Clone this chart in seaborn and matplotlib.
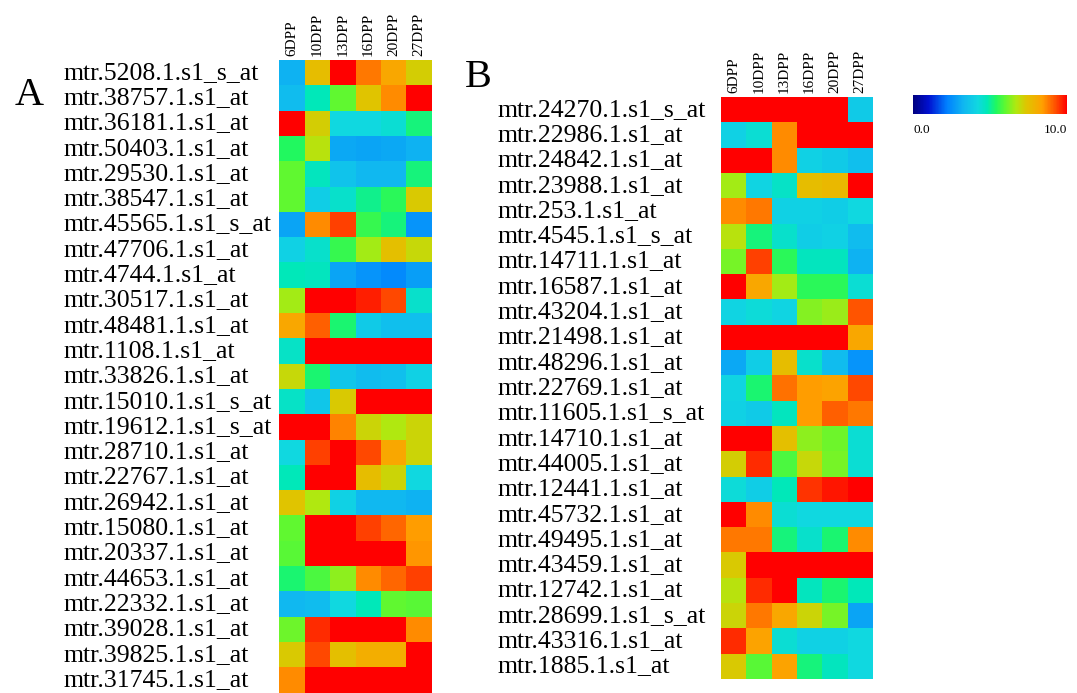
import pandas as pd
import seaborn as sns
import matplotlib.pyplot as plt
from matplotlib.colors import LinearSegmentedColormap

stages = ['6DPP', '10DPP', '13DPP', '16DPP', '20DPP', '27DPP']

genes_a = ['mtr.5208.1.s1_s_at', 'mtr.38757.1.s1_at', 'mtr.36181.1.s1_at', 'mtr.50403.1.s1_at',
           'mtr.29530.1.s1_at', 'mtr.38547.1.s1_at', 'mtr.45565.1.s1_s_at', 'mtr.47706.1.s1_at',
           'mtr.4744.1.s1_at', 'mtr.30517.1.s1_at', 'mtr.48481.1.s1_at', 'mtr.1108.1.s1_at',
           'mtr.33826.1.s1_at', 'mtr.15010.1.s1_s_at', 'mtr.19612.1.s1_s_at', 'mtr.28710.1.s1_at',
           'mtr.22767.1.s1_at', 'mtr.26942.1.s1_at', 'mtr.15080.1.s1_at', 'mtr.20337.1.s1_at',
           'mtr.44653.1.s1_at', 'mtr.22332.1.s1_at', 'mtr.39028.1.s1_at', 'mtr.39825.1.s1_at',
           'mtr.31745.1.s1_at']

values_a = [
    [3.2, 7.6, 10, 8.8, 8.2, 7.2],
    [3.4, 4.8, 6.0, 7.4, 8.6, 10],
    [10, 7.2, 4.2, 4.2, 4.4, 5.2],
    [5.4, 6.8, 3.0, 2.9, 3.0, 3.2],
    [6.0, 4.7, 3.6, 3.3, 3.3, 5.2],
    [6.0, 3.9, 4.5, 5.1, 5.5, 7.3],
    [2.9, 8.6, 9.4, 5.6, 5.2, 2.6],
    [4.0, 4.5, 5.6, 6.6, 7.5, 7.0],
    [4.8, 4.7, 2.9, 2.6, 2.4, 2.8],
    [6.6, 10, 10, 9.7, 9.3, 4.5],
    [8.2, 9.1, 5.3, 3.8, 3.5, 3.5],
    [4.6, 10, 10, 10, 10, 10],
    [7.0, 5.3, 3.7, 3.4, 3.5, 4.0],
    [4.6, 3.7, 7.3, 10, 10, 10],
    [10, 10, 8.7, 7.1, 6.7, 7.1],
    [4.2, 9.4, 10, 9.3, 8.2, 7.1],
    [4.8, 10, 10, 7.6, 7.1, 4.2],
    [7.4, 6.7, 4.0, 3.3, 3.3, 3.2],
    [6.0, 10, 10, 9.4, 9.0, 8.4],
    [5.9, 10, 10, 10, 10, 8.5],
    [5.3, 5.8, 6.4, 8.6, 9.0, 9.4],
    [3.3, 3.4, 4.2, 4.8, 6.0, 5.9],
    [6.1, 9.6, 10, 10, 10, 8.6],
    [7.3, 9.3, 7.5, 8.0, 8.0, 10],
    [8.6, 10, 10, 10, 10, 10],
]

genes_b = ['mtr.24270.1.s1_s_at', 'mtr.22986.1.s1_at', 'mtr.24842.1.s1_at', 'mtr.23988.1.s1_at',
           'mtr.253.1.s1_at', 'mtr.4545.1.s1_s_at', 'mtr.14711.1.s1_at', 'mtr.16587.1.s1_at',
           'mtr.43204.1.s1_at', 'mtr.21498.1.s1_at', 'mtr.48296.1.s1_at', 'mtr.22769.1.s1_at',
           'mtr.11605.1.s1_s_at', 'mtr.14710.1.s1_at', 'mtr.44005.1.s1_at', 'mtr.12441.1.s1_at',
           'mtr.45732.1.s1_at', 'mtr.49495.1.s1_at', 'mtr.43459.1.s1_at', 'mtr.12742.1.s1_at',
           'mtr.28699.1.s1_s_at', 'mtr.43316.1.s1_at', 'mtr.1885.1.s1_at']

values_b = [
    [10, 10, 10, 10, 10, 3.8],
    [4.0, 4.4, 8.6, 10, 10, 10],
    [10, 10, 8.6, 4.0, 3.8, 3.5],
    [6.6, 4.1, 4.6, 7.6, 7.7, 10],
    [8.6, 8.8, 4.0, 4.0, 3.9, 4.2],
    [6.8, 5.2, 4.5, 3.9, 4.0, 3.4],
    [6.2, 9.4, 5.5, 4.7, 4.7, 3.2],
    [10, 8.2, 6.6, 5.5, 5.5, 4.4],
    [4.1, 4.3, 4.1, 6.3, 6.5, 9.2],
    [10, 10, 10, 10, 10, 8.2],
    [3.0, 3.9, 7.6, 4.5, 3.4, 2.6],
    [4.1, 5.3, 8.9, 8.4, 8.3, 9.3],
    [4.0, 3.8, 4.7, 8.4, 9.1, 8.8],
    [10, 10, 7.5, 6.4, 6.1, 4.4],
    [7.2, 9.6, 5.8, 7.0, 6.2, 4.4],
    [4.3, 3.9, 4.8, 9.5, 9.8, 10],
    [10, 8.6, 4.4, 4.2, 4.2, 4.2],
    [8.8, 8.8, 5.2, 4.5, 5.3, 8.6],
    [7.3, 10, 10, 10, 10, 10],
    [6.8, 9.6, 10, 4.7, 5.3, 4.8],
    [7.1, 8.8, 8.2, 7.1, 6.2, 2.9],
    [9.6, 8.3, 4.4, 4.0, 4.0, 4.2],
    [7.3, 5.9, 8.3, 5.2, 4.7, 4.2],
]

df_a = pd.DataFrame(values_a, index=genes_a, columns=stages)
df_b = pd.DataFrame(values_b, index=genes_b, columns=stages)

# jet-like map that stops at plain red
cmap = LinearSegmentedColormap.from_list('expr', [
    (0.0, '#000080'), (0.1, '#0010d0'), (0.22, '#0080ff'), (0.33, '#10b8f0'),
    (0.42, '#10d8e0'), (0.48, '#00e8b8'), (0.54, '#20f860'), (0.6, '#60f830'),
    (0.67, '#b0e810'), (0.74, '#e0c400'), (0.84, '#ffa000'), (0.93, '#ff4c00'),
    (1.0, '#ff0000')])

serif = ['Liberation Serif', 'DejaVu Serif']
W, H = 1077, 693

fig = plt.figure(figsize=(W / 100, H / 100), dpi=100)
ax_a = fig.add_axes([279 / W, 1 - 692.5 / H, 153 / W, 632.5 / H])
ax_b = fig.add_axes([721 / W, 1 - 679 / H, 152 / W, 582 / H])
cax = fig.add_axes([913 / W, 1 - 114 / H, 154 / W, 19 / H])

sns.heatmap(df_a, ax=ax_a, cmap=cmap, vmin=0, vmax=10, cbar=False, linewidths=0)
sns.heatmap(df_b, ax=ax_b, cmap=cmap, vmin=0, vmax=10, cbar=True, cbar_ax=cax,
            cbar_kws={'orientation': 'horizontal'}, linewidths=0)

for ax, pad in [(ax_a, (279 - 63) * 0.72), (ax_b, (721 - 498) * 0.72)]:
    ax.set_xlabel('')
    ax.set_ylabel('')
    ax.xaxis.tick_top()
    ax.tick_params(axis='both', length=0)
    ax.tick_params(axis='y', pad=pad)
    ax.tick_params(axis='x', pad=3)
    for t in ax.get_yticklabels():
        t.set_ha('left')
        t.set_rotation(0)
        t.set_family(serif)
        t.set_fontsize(18.5)
    for t in ax.get_xticklabels():
        t.set_rotation(90)
        t.set_family(serif)
        t.set_fontsize(11)
        t.set_va('bottom')

cbar = ax_b.collections[0].colorbar
cbar.outline.set_visible(False)
cax.set_xticks([])
cax.set_yticks([])

fig.text(913 / W, 1 - 133 / H, '0.0', fontsize=9.5, family=serif, ha='left', va='baseline')
fig.text(1067 / W, 1 - 133 / H, '10.0', fontsize=9.5, family=serif, ha='right', va='baseline')

fig.text(15 / W, 1 - 105 / H, 'A', fontsize=29, family=serif, va='baseline')
fig.text(465 / W, 1 - 87 / H, 'B', fontsize=29, family=serif, va='baseline')

fig.savefig('out.png', dpi=100)
